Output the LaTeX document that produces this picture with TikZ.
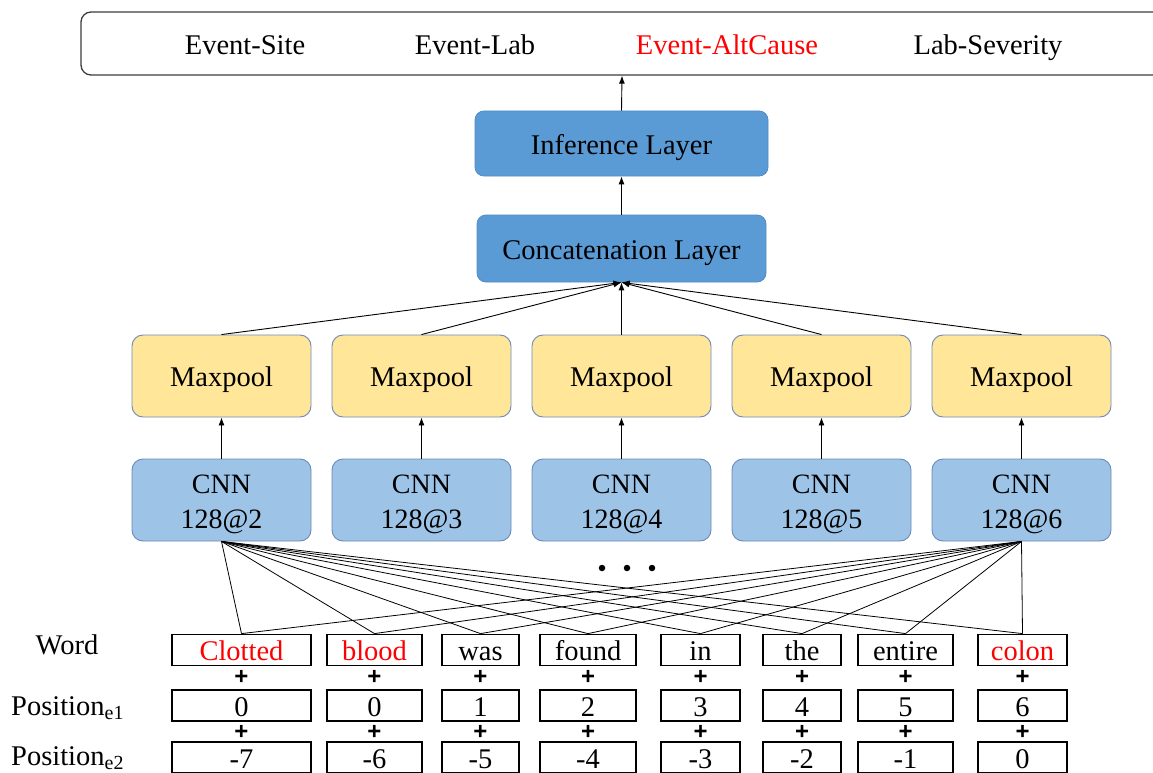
\documentclass[tikz,border=0pt]{standalone}
\usepackage{fontspec}
\setmainfont{Liberation Serif}
\newfontfamily\plusfont{Liberation Sans}
\usetikzlibrary{arrows.meta}
\definecolor{layerfill}{HTML}{5B9BD5}
\definecolor{layerdraw}{HTML}{4F8BC6}
\definecolor{mpfill}{HTML}{FFE699}
\definecolor{boxdraw}{HTML}{6A89BA}
\definecolor{cnnfill}{HTML}{9DC3E6}
\definecolor{barline}{HTML}{3C3C3C}
\definecolor{wred}{HTML}{FF0000}
\begin{document}
\begin{tikzpicture}[x=1pt,y=-1pt,
  txt/.style={font=\fontsize{28.5}{35}\selectfont, text height=24pt, text depth=2.5pt, inner sep=0pt},
  layer/.style={txt, rounded corners=9pt, fill=layerfill, draw=layerdraw, line width=0.8pt, minimum width=291pt, minimum height=66pt},
  mpbox/.style={txt, rounded corners=11pt, fill=mpfill, draw=boxdraw, line width=0.9pt, minimum width=179pt, minimum height=82pt},
  cnnbox/.style={font=\fontsize{28}{35}\selectfont, inner sep=0pt, rounded corners=11pt, fill=cnnfill, draw=boxdraw, line width=0.9pt, minimum width=179pt, minimum height=82pt},
  wbox/.style={txt, draw=black, line width=1.8pt, minimum height=31pt},
  arr/.style={-{Latex[length=8pt,width=6pt]}, line width=0.9pt},
  fan/.style={line width=0.8pt},
  plus/.style={font=\plusfont\fontsize{24}{24}\selectfont\bfseries, inner sep=0pt},
  lbl/.style={font=\fontsize{28.5}{35}\selectfont, inner sep=0pt}
]
\useasboundingbox (0,0) rectangle (1153,773);
\clip (0,0) rectangle (1153,773);

% top bar
\node[draw=barline, line width=1.3pt, rounded corners=10pt, minimum width=1082pt, minimum height=63pt, inner sep=0pt, fill=white] (bar) at (622,43.5) {};
\node[txt] (r1) at (245,44) {Event-Site};
\node[txt] (r2) at (475,44) {Event-Lab};
\node[txt, text=wred] (r3) at (727,44) {Event-AltCause};
\node[txt] (r4) at (988,44) {Lab-Severity};

% layers
\node[layer, minimum width=293pt, minimum height=65pt] (inf) at (621.5,143.5) {Inference Layer};
\node[layer, minimum width=289pt, minimum height=67pt] (cat) at (621.5,248.5) {Concatenation Layer};
\draw[arr] (inf.north) -- (bar.south);
\draw[arr] (cat.north) -- (inf.south);

% maxpool and cnn
\foreach \i/\x/\k in {1/221.5/2, 2/421.5/3, 3/621.5/4, 4/821.5/5, 5/1021.5/6} {
  \node[mpbox] (m\i) at (\x,376) {Maxpool};
  \node[cnnbox] (c\i) at (\x,500) {\raisebox{-4pt}[\height][\depth]{\begin{tabular}{@{}c@{}}CNN\\128@\k\end{tabular}}};
  \draw[arr] (c\i.north) -- (m\i.south);
  \draw[arr] (m\i.north) -- (cat.south);
}

% dots
\foreach \i/\x in {1/602, 2/627, 3/652}
  \node[circle, fill=black, inner sep=0pt, minimum size=6.5pt] (d\i) at (\x,568) {};

% word rows
\node[lbl, anchor=base] (lw) at (67,654) {Word};
\node[lbl, anchor=base west] (le1) at (11,715) {Position\textsubscript{e1}};
\node[lbl, anchor=base west] (le2) at (11,765) {Position\textsubscript{e2}};

\foreach \i/\x/\w/\word/\col/\pa/\pb in {
  1/241.5/139/Clotted/wred/0/-7,
  2/374.5/95/blood/wred/0/-6,
  3/480.5/77/was/black/1/-5,
  4/588/96/found/black/2/-4,
  5/700.5/79/in/black/3/-3,
  6/802/78/the/black/4/-2,
  7/905.5/95/entire/black/5/-1,
  8/1022.5/89/colon/wred/6/0} {
  \node[wbox, minimum width=\w pt, text=\col] (w\i) at (\x,650) {\word};
  \node[wbox, minimum width=\w pt] (a\i) at (\x,705.5) {\pa};
  \node[wbox, minimum width=\w pt] (b\i) at (\x,757.5) {\pb};
  \node[plus] (p\i) at (\x,677.5) {+};
  \node[plus] (q\i) at (\x,732) {+};
}

% fan connections
\foreach \i in {1,...,8} {
  \draw[fan] (c1.south) -- (w\i.north);
  \draw[fan] (c5.south) -- (w\i.north);
}
\end{tikzpicture}
\end{document}
